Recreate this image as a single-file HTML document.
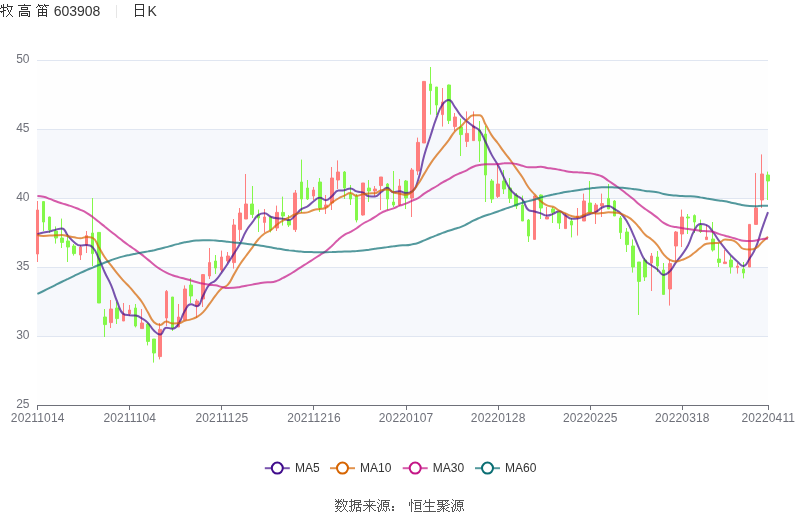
<!DOCTYPE html><html><head><meta charset="utf-8"><style>html,body{margin:0;padding:0;background:#fff;width:800px;height:517px;overflow:hidden}svg{display:block;will-change:transform;font-family:"Liberation Sans",sans-serif}</style></head><body><svg width="800" height="517" viewBox="0 0 800 517"><defs><clipPath id="cp"><rect x="36" y="55" width="734" height="351"/></clipPath></defs><rect x="37" y="60.5" width="731" height="69.0" fill="#fefefe"/><rect x="37" y="129.5" width="731" height="69.0" fill="#f6f8fc"/><rect x="37" y="198.5" width="731" height="69.0" fill="#fefefe"/><rect x="37" y="267.5" width="731" height="69.0" fill="#f6f8fc"/><rect x="37" y="336.5" width="731" height="69.0" fill="#fefefe"/><line x1="37" x2="768" y1="60.5" y2="60.5" stroke="#E0E6F1" stroke-width="1"/><line x1="37" x2="768" y1="129.5" y2="129.5" stroke="#E0E6F1" stroke-width="1"/><line x1="37" x2="768" y1="198.5" y2="198.5" stroke="#E0E6F1" stroke-width="1"/><line x1="37" x2="768" y1="267.5" y2="267.5" stroke="#E0E6F1" stroke-width="1"/><line x1="37" x2="768" y1="336.5" y2="336.5" stroke="#E0E6F1" stroke-width="1"/><text x="29.5" y="62.5" text-anchor="end" font-size="12" fill="#6E7079">50</text><text x="29.5" y="131.5" text-anchor="end" font-size="12" fill="#6E7079">45</text><text x="29.5" y="200.5" text-anchor="end" font-size="12" fill="#6E7079">40</text><text x="29.5" y="269.5" text-anchor="end" font-size="12" fill="#6E7079">35</text><text x="29.5" y="338.5" text-anchor="end" font-size="12" fill="#6E7079">30</text><text x="29.5" y="407.5" text-anchor="end" font-size="12" fill="#6E7079">25</text><line x1="37" x2="769" y1="405.5" y2="405.5" stroke="#6E7079" stroke-width="1"/><line x1="37.5" x2="37.5" y1="405.5" y2="410" stroke="#6E7079" stroke-width="1"/><text x="37.7" y="422" text-anchor="middle" font-size="12" letter-spacing="0.15" fill="#6E7079">20211014</text><line x1="129.5" x2="129.5" y1="405.5" y2="410" stroke="#6E7079" stroke-width="1"/><text x="129.79" y="422" text-anchor="middle" font-size="12" letter-spacing="0.15" fill="#6E7079">20211104</text><line x1="221.5" x2="221.5" y1="405.5" y2="410" stroke="#6E7079" stroke-width="1"/><text x="221.88" y="422" text-anchor="middle" font-size="12" letter-spacing="0.15" fill="#6E7079">20211125</text><line x1="313.5" x2="313.5" y1="405.5" y2="410" stroke="#6E7079" stroke-width="1"/><text x="313.98" y="422" text-anchor="middle" font-size="12" letter-spacing="0.15" fill="#6E7079">20211216</text><line x1="406.5" x2="406.5" y1="405.5" y2="410" stroke="#6E7079" stroke-width="1"/><text x="406.07" y="422" text-anchor="middle" font-size="12" letter-spacing="0.15" fill="#6E7079">20220107</text><line x1="498.5" x2="498.5" y1="405.5" y2="410" stroke="#6E7079" stroke-width="1"/><text x="498.16" y="422" text-anchor="middle" font-size="12" letter-spacing="0.15" fill="#6E7079">20220128</text><line x1="590.5" x2="590.5" y1="405.5" y2="410" stroke="#6E7079" stroke-width="1"/><text x="590.25" y="422" text-anchor="middle" font-size="12" letter-spacing="0.15" fill="#6E7079">20220225</text><line x1="682.5" x2="682.5" y1="405.5" y2="410" stroke="#6E7079" stroke-width="1"/><text x="682.35" y="422" text-anchor="middle" font-size="12" letter-spacing="0.15" fill="#6E7079">20220318</text><line x1="768.5" x2="768.5" y1="405.5" y2="410" stroke="#6E7079" stroke-width="1"/><text x="768.3" y="422" text-anchor="middle" font-size="12" letter-spacing="0.15" fill="#6E7079">20220411</text><g clip-path="url(#cp)"><path d="M37.5 201V210M37.5 254V262M36.5 210H38.5V254H36.5Z" fill="#FF7F7F" stroke="#FF7F7F" stroke-width="1"/><path d="M43.5 201V201.6M43.5 222V231M42.5 201.6H44.5V222H42.5Z" fill="#84F84A" stroke="#84F84A" stroke-width="1"/><path d="M49.5 216.6V217M49.5 230V233M48.5 217H50.5V230H48.5Z" fill="#84F84A" stroke="#84F84A" stroke-width="1"/><path d="M55.5 226.4V231M55.5 238V243.6M54.5 231H57.5V238H54.5Z" fill="#84F84A" stroke="#84F84A" stroke-width="1"/><path d="M61.5 218.6V238M61.5 242.4V248M60.5 238H63.5V242.4H60.5Z" fill="#84F84A" stroke="#84F84A" stroke-width="1"/><path d="M67.5 234V241M67.5 247V262M66.5 241H69.5V247H66.5Z" fill="#84F84A" stroke="#84F84A" stroke-width="1"/><path d="M73.5 244V246M73.5 253.6V255.6M72.5 246H75.5V253.6H72.5Z" fill="#84F84A" stroke="#84F84A" stroke-width="1"/><path d="M80.5 245V247M80.5 255V260M79.5 247H81.5V255H79.5Z" fill="#FF7F7F" stroke="#FF7F7F" stroke-width="1"/><path d="M86.5 231V235.6M86.5 245V253M85.5 235.6H87.5V245H85.5Z" fill="#FF7F7F" stroke="#FF7F7F" stroke-width="1"/><path d="M92.5 198V233M92.5 253.6V266M91.5 233H93.5V253.6H91.5Z" fill="#84F84A" stroke="#84F84A" stroke-width="1"/><path d="M98.5 232.4V232.4M98.5 303V303M97.5 232.4H100.5V303H97.5Z" fill="#84F84A" stroke="#84F84A" stroke-width="1"/><path d="M104.5 309V317M104.5 324.6V337M103.5 317H106.5V324.6H103.5Z" fill="#84F84A" stroke="#84F84A" stroke-width="1"/><path d="M110.5 300V309M110.5 322.6V328M109.5 309H112.5V322.6H109.5Z" fill="#FF7F7F" stroke="#FF7F7F" stroke-width="1"/><path d="M116.5 302V308M116.5 318.6V324M115.5 308H118.5V318.6H115.5Z" fill="#84F84A" stroke="#84F84A" stroke-width="1"/><path d="M123.5 303V314M123.5 321V321M122.5 314H124.5V321H122.5Z" fill="#FF7F7F" stroke="#FF7F7F" stroke-width="1"/><path d="M129.5 305V310M129.5 314V316M128.5 310H130.5V314H128.5Z" fill="#FF7F7F" stroke="#FF7F7F" stroke-width="1"/><path d="M135.5 304V308M135.5 326V327.4M134.5 308H136.5V326H134.5Z" fill="#84F84A" stroke="#84F84A" stroke-width="1"/><path d="M141.5 309V323M141.5 328.6V328.6M140.5 323H143.5V328.6H140.5Z" fill="#FF7F7F" stroke="#FF7F7F" stroke-width="1"/><path d="M147.5 323V324M147.5 341.4V345.4M146.5 324H149.5V341.4H146.5Z" fill="#84F84A" stroke="#84F84A" stroke-width="1"/><path d="M153.5 339V339M153.5 353V362.6M152.5 339H155.5V353H152.5Z" fill="#84F84A" stroke="#84F84A" stroke-width="1"/><path d="M159.5 323V329.4M159.5 356.6V359.4M158.5 329.4H161.5V356.6H158.5Z" fill="#FF7F7F" stroke="#FF7F7F" stroke-width="1"/><path d="M166.5 290V291.4M166.5 318V326M165.5 291.4H167.5V318H165.5Z" fill="#FF7F7F" stroke="#FF7F7F" stroke-width="1"/><path d="M172.5 297V297M172.5 328V331M171.5 297H173.5V328H171.5Z" fill="#84F84A" stroke="#84F84A" stroke-width="1"/><path d="M178.5 304V317M178.5 327V327M177.5 317H179.5V327H177.5Z" fill="#FF7F7F" stroke="#FF7F7F" stroke-width="1"/><path d="M184.5 285.4V289M184.5 320V320M183.5 289H186.5V320H183.5Z" fill="#FF7F7F" stroke="#FF7F7F" stroke-width="1"/><path d="M190.5 278V285M190.5 296V303M189.5 285H192.5V296H189.5Z" fill="#84F84A" stroke="#84F84A" stroke-width="1"/><path d="M196.5 299V301M196.5 306V318M195.5 301H198.5V306H195.5Z" fill="#FF7F7F" stroke="#FF7F7F" stroke-width="1"/><path d="M202.5 274V274.6M202.5 299V307M201.5 274.6H204.5V299H201.5Z" fill="#FF7F7F" stroke="#FF7F7F" stroke-width="1"/><path d="M209.5 248V262.6M209.5 276V279M208.5 262.6H210.5V276H208.5Z" fill="#FF7F7F" stroke="#FF7F7F" stroke-width="1"/><path d="M215.5 255V261M215.5 268V274M214.5 261H216.5V268H214.5Z" fill="#84F84A" stroke="#84F84A" stroke-width="1"/><path d="M221.5 250.6V257M221.5 270V272M220.5 257H222.5V270H220.5Z" fill="#FF7F7F" stroke="#FF7F7F" stroke-width="1"/><path d="M227.5 252V256M227.5 261V263M226.5 256H229.5V261H226.5Z" fill="#FF7F7F" stroke="#FF7F7F" stroke-width="1"/><path d="M233.5 219V225M233.5 262.6V268.6M232.5 225H235.5V262.6H232.5Z" fill="#FF7F7F" stroke="#FF7F7F" stroke-width="1"/><path d="M239.5 208V213M239.5 229.6V241M238.5 213H241.5V229.6H238.5Z" fill="#FF7F7F" stroke="#FF7F7F" stroke-width="1"/><path d="M245.5 174V204M245.5 219V219M244.5 204H247.5V219H244.5Z" fill="#FF7F7F" stroke="#FF7F7F" stroke-width="1"/><path d="M252.5 186V204M252.5 214.4V218M250.5 204H253.5V214.4H250.5Z" fill="#84F84A" stroke="#84F84A" stroke-width="1"/><path d="M258.5 209.6V215M258.5 218V232M257.5 215H259.5V218H257.5Z" fill="#84F84A" stroke="#84F84A" stroke-width="1"/><path d="M264.5 209V217M264.5 222.4V232.4M263.5 217H265.5V222.4H263.5Z" fill="#FF7F7F" stroke="#FF7F7F" stroke-width="1"/><path d="M270.5 216V217M270.5 230V232.4M269.5 217H271.5V230H269.5Z" fill="#84F84A" stroke="#84F84A" stroke-width="1"/><path d="M276.5 205.6V212.4M276.5 228V231M275.5 212.4H278.5V228H275.5Z" fill="#FF7F7F" stroke="#FF7F7F" stroke-width="1"/><path d="M282.5 196.6V212.4M282.5 216V225.6M281.5 212.4H284.5V216H281.5Z" fill="#84F84A" stroke="#84F84A" stroke-width="1"/><path d="M288.5 215V220M288.5 225V227M287.5 220H290.5V225H287.5Z" fill="#84F84A" stroke="#84F84A" stroke-width="1"/><path d="M295.5 190V193M295.5 229.6V232M293.5 193H296.5V229.6H293.5Z" fill="#FF7F7F" stroke="#FF7F7F" stroke-width="1"/><path d="M301.5 159.6V182M301.5 199V213M300.5 182H302.5V199H300.5Z" fill="#84F84A" stroke="#84F84A" stroke-width="1"/><path d="M307.5 180V188M307.5 199V200M306.5 188H308.5V199H306.5Z" fill="#84F84A" stroke="#84F84A" stroke-width="1"/><path d="M313.5 187V190M313.5 196V200M312.5 190H314.5V196H312.5Z" fill="#FF7F7F" stroke="#FF7F7F" stroke-width="1"/><path d="M319.5 178V182M319.5 208V212M318.5 182H321.5V208H318.5Z" fill="#84F84A" stroke="#84F84A" stroke-width="1"/><path d="M325.5 195V205M325.5 207V214M324.5 205H327.5V207H324.5Z" fill="#FF7F7F" stroke="#FF7F7F" stroke-width="1"/><path d="M331.5 167V178M331.5 203V210M330.5 178H333.5V203H330.5Z" fill="#FF7F7F" stroke="#FF7F7F" stroke-width="1"/><path d="M337.5 160.4V172M337.5 180V189M336.5 172H339.5V180H336.5Z" fill="#FF7F7F" stroke="#FF7F7F" stroke-width="1"/><path d="M344.5 171V172M344.5 188V199M343.5 172H345.5V188H343.5Z" fill="#84F84A" stroke="#84F84A" stroke-width="1"/><path d="M350.5 185V194M350.5 199V205M349.5 194H351.5V199H349.5Z" fill="#84F84A" stroke="#84F84A" stroke-width="1"/><path d="M356.5 194V196M356.5 220V222.4M355.5 196H357.5V220H355.5Z" fill="#84F84A" stroke="#84F84A" stroke-width="1"/><path d="M362.5 183V183M362.5 215V215.6M361.5 183H364.5V215H361.5Z" fill="#FF7F7F" stroke="#FF7F7F" stroke-width="1"/><path d="M368.5 180V188M368.5 191V202M367.5 188H370.5V191H367.5Z" fill="#84F84A" stroke="#84F84A" stroke-width="1"/><path d="M374.5 186V189M374.5 191V196M373.5 189H376.5V191H373.5Z" fill="#FF7F7F" stroke="#FF7F7F" stroke-width="1"/><path d="M380.5 177V177M380.5 185.6V210M379.5 177H382.5V185.6H379.5Z" fill="#FF7F7F" stroke="#FF7F7F" stroke-width="1"/><path d="M387.5 183V184M387.5 199V210M386.5 184H388.5V199H386.5Z" fill="#84F84A" stroke="#84F84A" stroke-width="1"/><path d="M393.5 171V202M393.5 205V207M392.5 202H394.5V205H392.5Z" fill="#84F84A" stroke="#84F84A" stroke-width="1"/><path d="M399.5 179V186M399.5 205V206M398.5 186H400.5V205H398.5Z" fill="#FF7F7F" stroke="#FF7F7F" stroke-width="1"/><path d="M405.5 180V181M405.5 198V209M404.5 181H407.5V198H404.5Z" fill="#84F84A" stroke="#84F84A" stroke-width="1"/><path d="M411.5 168V170M411.5 198V217M410.5 170H413.5V198H410.5Z" fill="#FF7F7F" stroke="#FF7F7F" stroke-width="1"/><path d="M417.5 137.6V142.4M417.5 171V175M416.5 142.4H419.5V171H416.5Z" fill="#FF7F7F" stroke="#FF7F7F" stroke-width="1"/><path d="M423.5 81V81.4M423.5 143V143M422.5 81.4H425.5V143H422.5Z" fill="#FF7F7F" stroke="#FF7F7F" stroke-width="1"/><path d="M430.5 67V84M430.5 90.6V114.6M429.5 84H431.5V90.6H429.5Z" fill="#84F84A" stroke="#84F84A" stroke-width="1"/><path d="M436.5 87V87M436.5 105V115M435.5 87H437.5V105H435.5Z" fill="#84F84A" stroke="#84F84A" stroke-width="1"/><path d="M442.5 88V102M442.5 114.6V126.6M441.5 102H443.5V114.6H441.5Z" fill="#FF7F7F" stroke="#FF7F7F" stroke-width="1"/><path d="M448.5 84.6V85M448.5 120.6V124M447.5 85H450.5V120.6H447.5Z" fill="#84F84A" stroke="#84F84A" stroke-width="1"/><path d="M454.5 113V117M454.5 126.6V131M453.5 117H456.5V126.6H453.5Z" fill="#FF7F7F" stroke="#FF7F7F" stroke-width="1"/><path d="M460.5 118.6V127M460.5 134.6V156M459.5 127H462.5V134.6H459.5Z" fill="#84F84A" stroke="#84F84A" stroke-width="1"/><path d="M466.5 111.4V133.4M466.5 141.4V147M465.5 133.4H468.5V141.4H465.5Z" fill="#FF7F7F" stroke="#FF7F7F" stroke-width="1"/><path d="M473.5 111.4V126M473.5 140.6V140.6M472.5 126H474.5V140.6H472.5Z" fill="#FF7F7F" stroke="#FF7F7F" stroke-width="1"/><path d="M479.5 121V130M479.5 141V162M478.5 130H480.5V141H478.5Z" fill="#84F84A" stroke="#84F84A" stroke-width="1"/><path d="M485.5 126V134M485.5 175V202M484.5 134H486.5V175H484.5Z" fill="#84F84A" stroke="#84F84A" stroke-width="1"/><path d="M491.5 179V181M491.5 199V203M490.5 181H493.5V199H490.5Z" fill="#84F84A" stroke="#84F84A" stroke-width="1"/><path d="M497.5 164V184M497.5 196.4V198M496.5 184H499.5V196.4H496.5Z" fill="#FF7F7F" stroke="#FF7F7F" stroke-width="1"/><path d="M503.5 170V181M503.5 189V194M502.5 181H505.5V189H502.5Z" fill="#84F84A" stroke="#84F84A" stroke-width="1"/><path d="M509.5 178V188M509.5 198.4V203M508.5 188H511.5V198.4H508.5Z" fill="#84F84A" stroke="#84F84A" stroke-width="1"/><path d="M516.5 193V195M516.5 206V209M514.5 195H517.5V206H514.5Z" fill="#84F84A" stroke="#84F84A" stroke-width="1"/><path d="M522.5 195.6V205M522.5 221V221M521.5 205H523.5V221H521.5Z" fill="#84F84A" stroke="#84F84A" stroke-width="1"/><path d="M528.5 219V220M528.5 236V242M527.5 220H529.5V236H527.5Z" fill="#84F84A" stroke="#84F84A" stroke-width="1"/><path d="M534.5 196V196M534.5 239.4V239.4M533.5 196H535.5V239.4H533.5Z" fill="#FF7F7F" stroke="#FF7F7F" stroke-width="1"/><path d="M540.5 194.4V195M540.5 208V219M539.5 195H542.5V208H539.5Z" fill="#84F84A" stroke="#84F84A" stroke-width="1"/><path d="M546.5 207V217M546.5 219V219M545.5 217H548.5V219H545.5Z" fill="#FF7F7F" stroke="#FF7F7F" stroke-width="1"/><path d="M552.5 207V209M552.5 212.4V223M551.5 209H554.5V212.4H551.5Z" fill="#84F84A" stroke="#84F84A" stroke-width="1"/><path d="M559.5 211V212.4M559.5 223V229M557.5 212.4H560.5V223H557.5Z" fill="#84F84A" stroke="#84F84A" stroke-width="1"/><path d="M565.5 213V216M565.5 228.6V228.6M564.5 216H566.5V228.6H564.5Z" fill="#FF7F7F" stroke="#FF7F7F" stroke-width="1"/><path d="M571.5 218V221M571.5 225V237.4M570.5 221H572.5V225H570.5Z" fill="#84F84A" stroke="#84F84A" stroke-width="1"/><path d="M577.5 208V216M577.5 218V235.6M576.5 216H578.5V218H576.5Z" fill="#FF7F7F" stroke="#FF7F7F" stroke-width="1"/><path d="M583.5 193.6V201M583.5 221V221M582.5 201H585.5V221H582.5Z" fill="#FF7F7F" stroke="#FF7F7F" stroke-width="1"/><path d="M589.5 181V203M589.5 212V212M588.5 203H591.5V212H588.5Z" fill="#84F84A" stroke="#84F84A" stroke-width="1"/><path d="M595.5 203V205M595.5 212V224M594.5 205H597.5V212H594.5Z" fill="#FF7F7F" stroke="#FF7F7F" stroke-width="1"/><path d="M601.5 193.6V203.6M601.5 206V217M600.5 203.6H603.5V206H600.5Z" fill="#FF7F7F" stroke="#FF7F7F" stroke-width="1"/><path d="M608.5 184V198.4M608.5 209V209M607.5 198.4H609.5V209H607.5Z" fill="#84F84A" stroke="#84F84A" stroke-width="1"/><path d="M614.5 200V201M614.5 216V216M613.5 201H615.5V216H613.5Z" fill="#84F84A" stroke="#84F84A" stroke-width="1"/><path d="M620.5 216V218M620.5 232.6V239M619.5 218H621.5V232.6H619.5Z" fill="#84F84A" stroke="#84F84A" stroke-width="1"/><path d="M626.5 228V232M626.5 244.6V252M625.5 232H628.5V244.6H625.5Z" fill="#84F84A" stroke="#84F84A" stroke-width="1"/><path d="M632.5 239.4V246M632.5 267V272.6M631.5 246H634.5V267H631.5Z" fill="#84F84A" stroke="#84F84A" stroke-width="1"/><path d="M638.5 262V262M638.5 281.4V315M637.5 262H640.5V281.4H637.5Z" fill="#84F84A" stroke="#84F84A" stroke-width="1"/><path d="M644.5 258V260M644.5 277V281M643.5 260H646.5V277H643.5Z" fill="#84F84A" stroke="#84F84A" stroke-width="1"/><path d="M651.5 253V256M651.5 263V291M650.5 256H652.5V263H650.5Z" fill="#FF7F7F" stroke="#FF7F7F" stroke-width="1"/><path d="M657.5 251V257M657.5 266V272M656.5 257H658.5V266H656.5Z" fill="#84F84A" stroke="#84F84A" stroke-width="1"/><path d="M663.5 263V270M663.5 294.4V294.4M662.5 270H664.5V294.4H662.5Z" fill="#84F84A" stroke="#84F84A" stroke-width="1"/><path d="M669.5 259.6V263.6M669.5 289V305.6M668.5 263.6H671.5V289H668.5Z" fill="#FF7F7F" stroke="#FF7F7F" stroke-width="1"/><path d="M675.5 231V232M675.5 246V261M674.5 232H677.5V246H674.5Z" fill="#FF7F7F" stroke="#FF7F7F" stroke-width="1"/><path d="M681.5 209.6V217M681.5 234V247M680.5 217H683.5V234H680.5Z" fill="#FF7F7F" stroke="#FF7F7F" stroke-width="1"/><path d="M687.5 214V217M687.5 218V234M686.5 217H689.5V218H686.5Z" fill="#84F84A" stroke="#84F84A" stroke-width="1"/><path d="M694.5 214.4V215.6M694.5 222V233M693.5 215.6H695.5V222H693.5Z" fill="#84F84A" stroke="#84F84A" stroke-width="1"/><path d="M700.5 219.6V225M700.5 231.6V233M699.5 225H701.5V231.6H699.5Z" fill="#84F84A" stroke="#84F84A" stroke-width="1"/><path d="M706.5 225V237M706.5 239.6V240M705.5 237H707.5V239.6H705.5Z" fill="#FF7F7F" stroke="#FF7F7F" stroke-width="1"/><path d="M712.5 222V239M712.5 250V251.6M711.5 239H714.5V250H711.5Z" fill="#84F84A" stroke="#84F84A" stroke-width="1"/><path d="M718.5 243V259M718.5 262.4V267M717.5 259H720.5V262.4H717.5Z" fill="#84F84A" stroke="#84F84A" stroke-width="1"/><path d="M724.5 250V262M724.5 263.6V263.6M723.5 262H726.5V263.6H723.5Z" fill="#FF7F7F" stroke="#FF7F7F" stroke-width="1"/><path d="M730.5 256V260M730.5 267V273.6M729.5 260H732.5V267H729.5Z" fill="#84F84A" stroke="#84F84A" stroke-width="1"/><path d="M737.5 263V266M737.5 267.6V273.6M736.5 266H738.5V267.6H736.5Z" fill="#FF7F7F" stroke="#FF7F7F" stroke-width="1"/><path d="M743.5 262V269M743.5 273V278.4M742.5 269H744.5V273H742.5Z" fill="#84F84A" stroke="#84F84A" stroke-width="1"/><path d="M749.5 224V224.4M749.5 267V267M748.5 224.4H750.5V267H748.5Z" fill="#FF7F7F" stroke="#FF7F7F" stroke-width="1"/><path d="M755.5 173V208M755.5 224.4V224.4M754.5 208H757.5V224.4H754.5Z" fill="#FF7F7F" stroke="#FF7F7F" stroke-width="1"/><path d="M761.5 154.4V174M761.5 200V208M760.5 174H763.5V200H760.5Z" fill="#FF7F7F" stroke="#FF7F7F" stroke-width="1"/><path d="M767.5 171.6V175M767.5 181V200M766.5 175H769.5V181H766.5Z" fill="#84F84A" stroke="#84F84A" stroke-width="1"/><path d="M37.4 234.28C37.4 234.28 40.43 233.23 43.54 232.51C46.57 231.82 46.65 232.16 49.68 231.46C52.79 230.73 52.71 230.41 55.82 229.65C58.85 228.92 59.54 228.48 61.96 228.48C65.68 228.48 64.89 232.3 68.1 235.88C71.03 239.16 70.82 239.49 74.24 242.2C76.96 244.35 77.11 245.6 80.38 245.6C83.25 245.6 83.54 245.12 86.52 245.12C89.68 245.12 90.58 245.12 92.66 247.36C96.72 251.74 96.02 252.82 98.79 258.56C102.16 265.52 101.69 265.74 104.93 272.76C107.83 279.04 108.38 278.8 111.07 285.16C114.52 293.3 113.74 293.64 117.21 301.76C119.88 307.98 119.16 310.83 123.35 313.84C125.3 315.24 126.39 314.95 129.49 315.24C132.52 315.52 132.71 315.24 135.63 315.52C138.84 315.83 138.89 316.6 141.77 318.32C145.03 320.28 145.24 320.19 147.91 322.88C151.38 326.37 150.5 327.31 154.05 330.68C156.64 333.15 157.49 334.56 160.19 334.56C163.63 334.56 162.66 327.64 166.33 327.64C168.8 327.64 169.75 328.64 172.47 328.64C175.89 328.64 176.42 326.91 178.61 323.76C182.56 318.07 181 316.9 184.75 310.96C187.14 307.16 187.29 304.28 190.89 304.28C193.43 304.28 194.92 306.2 197.03 306.2C201.06 306.2 200.12 300.87 203.17 295.52C206.26 290.09 205.46 289.37 209.31 284.64C211.6 281.83 212.82 283.01 215.45 280.44C218.95 277.01 218.66 276.64 221.58 272.64C224.8 268.24 224.76 268.21 227.72 263.64C230.9 258.75 230.79 258.68 233.86 253.72C236.93 248.76 237.23 248.92 240 243.8C243.37 237.56 242.61 237.13 246.14 231C248.75 226.47 249.1 226.66 252.28 222.48C255.24 218.6 254.7 217.34 258.42 214.88C260.84 213.28 261.65 213.28 264.56 213.28C267.79 213.28 267.48 215.35 270.7 216.68C273.62 217.89 273.72 218.03 276.84 218.36C279.86 218.68 279.95 218.36 282.98 218.68C286.09 219.01 286.38 220.08 289.12 220.08C292.52 220.08 292.36 217.87 295.26 215.28C298.5 212.37 297.93 211.59 301.4 209.08C304.06 207.15 304.75 208.19 307.54 206.4C310.89 204.25 310.4 203.5 313.68 201.2C316.54 199.2 316.65 197.8 319.82 197.8C322.79 197.8 323.07 200.2 325.96 200.2C329.21 200.2 329.17 198.29 332.1 196C335.31 193.49 334.73 191.13 338.24 190.6C340.87 190.2 341.37 190.6 344.37 190.2C347.5 189.78 347.55 188.4 350.51 188.4C353.69 188.4 353.44 190.35 356.65 191.4C359.58 192.35 359.95 191.4 362.79 192.4C366.09 193.56 365.62 195.96 368.93 196.2C371.75 196.4 372.32 196.4 375.07 196.4C378.46 196.4 378.12 194.17 381.21 192C384.26 189.87 384.31 187.8 387.35 187.8C390.44 187.8 390.12 192.2 393.49 192.2C396.26 192.2 396.6 191.2 399.63 191.2C402.74 191.2 402.68 193 405.77 193C408.82 193 409.89 193 411.91 191.6C416.03 188.74 415.99 186.33 418.05 180.28C422.13 168.31 420.75 167.82 424.19 155.56C426.89 145.92 427.22 146.01 430.33 136.48C433.36 127.17 432.98 127.02 436.47 117.88C439.12 110.92 438.53 110.25 442.61 104.28C444.67 101.27 446.02 99.92 448.75 99.92C452.16 99.92 452.02 103.32 454.89 107.04C458.16 111.28 457.58 111.77 461.03 115.84C463.71 119.01 463.99 118.81 467.16 121.52C470.13 124.05 470.15 124.04 473.3 126.32C476.29 128.48 477.24 127.58 479.44 130.4C483.38 135.42 482.64 136.14 485.58 142C488.78 148.38 488.37 148.59 491.72 154.88C494.51 160.09 495.05 159.8 497.86 165C501.19 171.16 500.82 171.36 504 177.6C506.96 183.4 506.47 183.79 510.14 189.08C512.6 192.63 512.99 192.44 516.28 195.28C519.13 197.74 520.06 196.83 522.42 199.68C526.2 204.23 524.52 207.39 528.56 210.08C530.66 211.48 531.66 210.66 534.7 211.48C537.8 212.32 537.79 212.38 540.84 213.4C543.93 214.44 543.87 215.6 546.98 215.6C550.01 215.6 550.12 214.94 553.12 213.88C556.26 212.78 556.33 211.28 559.26 211.28C562.47 211.28 562.26 213.39 565.4 215.28C568.4 217.09 568.26 218.68 571.54 218.68C574.4 218.68 574.7 218.68 577.68 218.48C580.84 218.27 580.74 217.32 583.82 216.2C586.88 215.08 586.88 215.1 589.95 214C593.02 212.9 593.24 213.31 596.09 211.8C599.37 210.07 598.9 209.06 602.23 207.52C605.04 206.22 605.43 206.12 608.37 206.12C611.57 206.12 611.56 207.41 614.51 209.12C617.7 210.97 618.05 210.68 620.65 213.24C624.18 216.7 624.24 216.88 626.79 221.16C630.38 227.18 630.03 227.42 632.93 233.84C636.17 241 635.78 241.18 639.07 248.32C641.92 254.52 641.29 255.13 645.21 260.52C647.43 263.57 648.23 262.93 651.35 265.2C654.37 267.41 654.56 267.16 657.49 269.48C660.7 272.04 660.33 274.96 663.63 274.96C666.47 274.96 667.35 273.88 669.77 271.4C673.49 267.6 672.7 266.8 675.91 262.4C678.83 258.4 679.19 258.65 682.05 254.6C685.33 249.95 685.61 250.06 688.19 245C691.75 238.02 690.4 237.2 694.33 230.52C696.54 226.76 696.86 224.12 700.47 224.12C703 224.12 704.1 224.12 706.61 225.12C710.24 226.57 709.95 228.2 712.74 231.72C716.09 235.94 715.71 236.24 718.88 240.6C721.85 244.68 721.84 244.69 725.02 248.6C727.98 252.23 727.93 252.29 731.16 255.68C734.07 258.73 734.09 258.76 737.3 261.48C740.22 263.96 740.74 266.08 743.44 266.08C746.88 266.08 746.88 262.53 749.58 258.48C753.02 253.33 753.34 253.39 755.72 247.68C759.48 238.69 758.67 238.34 761.86 229.08C764.81 220.54 768 212.08 768 212.08" fill="none" stroke="#400C8C" stroke-opacity="0.7" stroke-width="2" stroke-linejoin="bevel"/><path d="M37.4 235.07C37.4 235.07 40.46 235.97 43.54 235.97C46.6 235.97 46.61 235.78 49.68 235.62C52.75 235.45 52.75 235.46 55.82 235.31C58.89 235.16 58.92 235 61.96 235C65.06 235 65.02 235.63 68.1 236.22C71.16 236.81 71.16 236.84 74.24 237.36C77.3 237.88 77.32 238.31 80.38 238.31C83.46 238.31 83.43 237.07 86.52 237.07C89.57 237.07 90.46 237.07 92.66 237.92C96.6 239.44 95.83 242.5 98.79 247.22C101.97 252.28 101.59 252.54 104.93 257.48C107.73 261.62 108.02 261.42 111.07 265.38C114.16 269.4 114.03 269.5 117.21 273.44C120.17 277.11 120.18 277.12 123.35 280.6C126.32 283.85 126.54 283.64 129.49 286.9C132.68 290.41 132.61 290.48 135.63 294.14C138.75 297.9 139.05 297.7 141.77 301.74C145.18 306.79 144.77 307.07 147.91 312.32C150.91 317.33 150.14 318.26 154.05 322.26C156.28 324.55 157.19 324.9 160.19 324.9C163.33 324.9 163.13 321.58 166.33 321.58C169.27 321.58 169.33 323.48 172.47 323.48C175.47 323.48 175.66 323.48 178.61 323.32C181.8 323.15 181.6 321.82 184.75 320.82C187.74 319.87 187.9 320.37 190.89 319.42C194.04 318.42 194.21 318.6 197.03 316.92C200.35 314.93 200.47 314.87 203.17 312.08C206.61 308.51 206.31 308.2 209.31 304.2C212.45 300.01 212.22 299.83 215.45 295.7C218.36 291.96 218.07 291.55 221.58 288.46C224.21 286.16 225.44 287.49 227.72 284.92C231.58 280.57 230.81 279.78 233.86 274.62C236.94 269.43 236.72 269.28 240 264.22C242.86 259.83 243.03 259.94 246.14 255.72C249.17 251.61 249.23 251.65 252.28 247.56C255.37 243.42 255.04 243.13 258.42 239.26C261.18 236.1 261.2 235.97 264.56 233.5C267.34 231.46 267.9 232.25 270.7 230.24C274.04 227.84 273.59 227.23 276.84 224.68C279.73 222.4 279.8 222.44 282.98 220.58C285.94 218.84 286.06 219.05 289.12 217.48C292.2 215.9 292.04 215.48 295.26 214.28C298.18 213.18 298.29 213.36 301.4 212.88C304.43 212.41 304.58 212.88 307.54 212.38C310.71 211.84 310.52 210.83 313.68 209.94C316.65 209.11 316.76 209.49 319.82 208.94C322.9 208.39 323.27 208.94 325.96 207.74C329.41 206.2 328.89 204.95 332.1 202.54C335.03 200.33 335.03 200.28 338.24 198.5C341.17 196.86 341.29 197.06 344.37 195.7C347.43 194.36 347.45 193.1 350.51 193.1C353.59 193.1 353.5 195.8 356.65 195.8C359.64 195.8 359.69 194.81 362.79 194.2C365.83 193.61 365.85 193.5 368.93 193.4C371.99 193.3 372.18 193.4 375.07 193.3C378.32 193.19 377.98 190.87 381.21 190.2C384.11 189.6 384.41 189.6 387.35 189.6C390.55 189.6 390.32 191.24 393.49 192.3C396.46 193.29 396.54 193.1 399.63 193.7C402.68 194.3 402.83 194.7 405.77 194.7C408.97 194.7 409.41 193.97 411.91 191.8C415.55 188.64 415.26 188.11 418.05 184.04C421.4 179.15 421.11 178.95 424.19 173.88C427.24 168.85 427.07 168.73 430.33 163.84C433.21 159.51 433.29 159.56 436.47 155.44C439.43 151.61 439.58 151.72 442.61 147.94C445.72 144.05 445.79 144.1 448.75 140.1C451.93 135.78 451.37 135.29 454.89 131.3C457.51 128.32 458.12 128.9 461.03 126.16C464.26 123.1 463.84 122.64 467.16 119.7C469.98 117.21 469.92 115.47 473.3 115.3C476.06 115.16 477.27 115.16 479.44 115.16C483.41 115.16 482.68 119.74 485.58 124.52C488.82 129.84 488.32 130.16 491.72 135.36C494.46 139.53 494.89 139.24 497.86 143.26C501.03 147.54 500.82 147.69 504 151.96C506.96 155.93 507.2 155.75 510.14 159.74C513.34 164.09 513.18 164.21 516.28 168.64C519.32 172.98 519.54 172.84 522.42 177.28C525.67 182.29 525.11 182.69 528.56 187.54C531.25 191.32 531.59 191.07 534.7 194.54C537.73 197.92 537.46 198.24 540.84 201.24C543.6 203.69 543.65 203.94 546.98 205.44C549.79 206.71 550.27 205.57 553.12 206.78C556.41 208.19 556.06 208.96 559.26 210.68C562.2 212.26 562.32 212.04 565.4 213.38C568.46 214.72 568.35 215.09 571.54 216.04C574.49 216.92 574.66 217.04 577.68 217.04C580.8 217.04 580.78 216.13 583.82 215.04C586.92 213.93 586.79 212.64 589.95 212.64C592.93 212.64 593.01 213.54 596.09 213.54C599.15 213.54 599.17 213.41 602.23 213.1C605.31 212.79 605.29 212.3 608.37 212.3C611.43 212.3 611.46 212.33 614.51 212.66C617.6 212.99 617.71 212.71 620.65 213.62C623.85 214.62 623.87 214.8 626.79 216.48C630.01 218.33 630.15 218.25 632.93 220.68C636.29 223.62 636.13 223.84 639.07 227.22C642.27 230.91 641.75 231.44 645.21 234.82C647.89 237.44 648.49 236.77 651.35 239.22C654.63 242.02 654.78 241.97 657.49 245.32C660.92 249.56 660.12 250.24 663.63 254.4C666.26 257.51 666.3 257.87 669.77 259.86C672.44 261.4 672.84 261.46 675.91 261.46C678.97 261.46 679.06 260.93 682.05 259.9C685.2 258.82 685.31 258.91 688.19 257.24C691.45 255.33 691.31 255.07 694.33 252.74C697.45 250.33 697.28 250.09 700.47 247.76C703.42 245.6 703.27 244.47 706.61 243.76C709.41 243.16 709.67 243.4 712.74 243.16C715.81 242.92 716 243.16 718.88 242.8C722.14 242.39 721.77 239.56 725.02 239.56C727.91 239.56 728.3 239.56 731.16 239.9C734.44 240.29 734.49 241.24 737.3 243.3C740.63 245.74 739.92 248.04 743.44 248.9C746.06 249.54 746.54 249.54 749.58 249.54C752.68 249.54 753.09 249.54 755.72 248.14C759.23 246.27 758.77 245.24 761.86 242.38C764.91 239.56 768 236.78 768 236.78" fill="none" stroke="#D66400" stroke-opacity="0.7" stroke-width="2" stroke-linejoin="bevel"/><path d="M37.4 196C37.4 196 40.53 196.14 43.54 196.83C46.67 197.55 46.64 197.73 49.68 198.82C52.78 199.94 52.72 200.11 55.82 201.26C58.86 202.38 58.87 202.36 61.96 203.36C65.01 204.36 65.04 204.26 68.1 205.25C71.18 206.26 71.19 206.24 74.24 207.36C77.33 208.51 77.36 208.45 80.38 209.8C83.5 211.19 83.57 211.12 86.52 212.84C89.7 214.71 89.67 214.81 92.66 216.99C95.81 219.3 95.74 219.39 98.79 221.82C101.88 224.27 101.86 224.29 104.93 226.75C108 229.21 108 229.2 111.07 231.66C114.14 234.11 114.13 234.14 117.21 236.57C120.27 238.98 120.25 239 123.35 241.35C126.39 243.63 126.4 243.61 129.49 245.83C132.54 248.01 132.58 247.96 135.63 250.14C138.72 252.36 138.76 252.31 141.77 254.64C144.9 257.05 144.85 257.12 147.91 259.63C150.99 262.16 150.9 262.29 154.05 264.73C157.04 267.05 157.01 267.11 160.19 269.16C163.15 271.07 163.17 271.09 166.33 272.65C169.31 274.12 169.34 274.08 172.47 275.21C175.48 276.31 175.52 276.21 178.61 277.09C181.66 277.97 181.68 277.88 184.75 278.72C187.82 279.56 187.82 279.58 190.89 280.45C193.96 281.32 193.94 281.4 197.03 282.2C200.08 282.99 200.08 283.01 203.17 283.63C206.22 284.24 206.22 284.25 209.31 284.66C212.36 285.08 212.42 284.75 215.45 285.29C218.56 285.85 218.49 286.18 221.58 286.86C224.63 287.53 224.63 287.99 227.72 287.99C230.77 287.99 230.81 287.99 233.86 287.83C236.95 287.66 236.95 287.52 240 286.99C243.09 286.46 243.06 286.31 246.14 285.71C249.2 285.12 249.22 285.19 252.28 284.63C255.36 284.06 255.34 283.99 258.42 283.44C261.48 282.89 261.47 282.63 264.56 282.44C267.61 282.25 267.67 282.44 270.7 282.25C273.81 282.06 273.89 281.91 276.84 280.88C280.03 279.77 279.95 279.51 282.98 277.98C286.09 276.4 286.11 276.42 289.12 274.66C292.25 272.83 292.2 272.75 295.26 270.79C298.34 268.82 298.31 268.77 301.4 266.81C304.45 264.86 304.49 264.92 307.54 262.97C310.63 261 310.6 260.96 313.68 258.97C316.74 256.99 316.75 257.01 319.82 255.04C322.89 253.07 323.07 253.31 325.96 251.11C329.21 248.62 329.1 248.46 332.1 245.66C335.24 242.72 335 242.46 338.24 239.63C341.14 237.08 341.12 236.98 344.37 234.91C347.26 233.08 347.5 233.47 350.51 231.83C353.64 230.13 353.68 230.18 356.65 228.23C359.82 226.15 359.59 225.78 362.79 223.77C365.73 221.92 365.89 222.19 368.93 220.5C372.03 218.77 372.07 218.82 375.07 216.93C378.21 214.97 377.97 214.55 381.21 212.8C384.11 211.23 384.23 211.41 387.35 210.28C390.37 209.19 390.49 209.5 393.49 208.36C396.63 207.17 396.5 206.83 399.63 205.63C402.64 204.48 402.78 204.84 405.77 203.66C408.92 202.42 408.83 202.2 411.91 200.79C414.97 199.39 415.15 199.72 418.05 198.04C421.29 196.15 421.05 195.74 424.19 193.65C427.19 191.66 427.24 191.74 430.33 189.87C433.38 188.03 433.42 188.09 436.47 186.23C439.56 184.33 439.47 184.17 442.61 182.36C445.61 180.63 445.74 180.86 448.75 179.15C451.88 177.37 451.7 177.03 454.89 175.38C457.84 173.85 457.97 174.12 461.03 172.79C464.11 171.44 464.15 171.52 467.16 170.03C470.29 168.49 470.1 168.05 473.3 166.73C476.24 165.53 476.33 165.64 479.44 165C482.47 164.38 482.5 164.2 485.58 164.2C488.64 164.2 488.65 164.2 491.72 164.2C494.79 164.2 494.8 164.2 497.86 164C500.94 163.8 500.92 163.58 504 163.37C507.06 163.15 507.09 163.15 510.14 163.15C513.23 163.15 513.25 163.45 516.28 164.08C519.39 164.73 519.35 164.9 522.42 165.71C525.49 166.52 525.44 167.31 528.56 167.31C531.58 167.31 531.63 167.31 534.7 167.21C537.77 167.11 537.79 166.81 540.84 166.81C543.93 166.81 543.89 167.48 546.98 167.95C550.03 168.41 550.06 168.2 553.12 168.66C556.2 169.12 556.2 169.19 559.26 169.79C562.33 170.4 562.31 170.55 565.4 171.09C568.45 171.63 568.45 171.65 571.54 171.96C574.59 172.27 574.61 172.11 577.68 172.33C580.75 172.54 580.74 172.58 583.82 172.83C586.88 173.07 586.91 172.89 589.95 173.29C593.05 173.7 593.08 173.67 596.09 174.46C599.22 175.28 599.38 175.04 602.23 176.5C605.52 178.19 605.29 178.64 608.37 180.75C611.43 182.86 611.45 182.83 614.51 184.93C617.59 187.05 617.64 186.98 620.65 189.19C623.78 191.48 623.74 191.54 626.79 193.94C629.88 196.36 629.94 196.29 632.93 198.82C636.07 201.47 635.91 201.67 639.07 204.3C642.05 206.78 642.06 206.78 645.21 209.05C648.2 211.2 648.35 210.99 651.35 213.13C654.49 215.37 654.47 215.4 657.49 217.8C660.61 220.29 660.31 220.74 663.63 222.91C666.45 224.77 666.56 224.81 669.77 225.87C672.7 226.84 672.84 226.42 675.91 226.97C678.98 227.52 678.97 227.55 682.05 228.07C685.11 228.58 685.11 228.59 688.19 229.03C691.25 229.47 691.26 229.41 694.33 229.82C697.4 230.23 697.39 230.33 700.47 230.67C703.53 231.02 703.53 230.96 706.61 231.21C709.67 231.46 709.76 231.21 712.74 231.67C715.9 232.17 715.78 232.87 718.88 233.89C721.92 234.88 721.95 234.82 725.02 235.69C728.08 236.55 728.1 236.49 731.16 237.35C734.24 238.22 734.22 238.27 737.3 239.14C740.36 240 740.32 240.52 743.44 240.81C746.46 241.09 746.52 241.09 749.58 241.09C752.66 241.09 752.68 241.01 755.72 240.52C758.82 240.02 758.76 239.64 761.86 239.12C764.9 238.61 768 238.45 768 238.45" fill="none" stroke="#C41686" stroke-opacity="0.7" stroke-width="2" stroke-linejoin="bevel"/><path d="M37.4 293.82C37.4 293.82 40.49 292.44 43.54 290.99C46.63 289.52 46.63 289.52 49.68 287.98C52.77 286.43 52.74 286.37 55.82 284.8C58.88 283.24 58.87 283.23 61.96 281.73C65.01 280.24 65.03 280.28 68.1 278.82C71.17 277.35 71.17 277.34 74.24 275.86C77.31 274.38 77.29 274.34 80.38 272.91C83.43 271.49 83.43 271.5 86.52 270.15C89.57 268.82 89.58 268.85 92.66 267.56C95.72 266.27 95.72 266.27 98.79 265C101.86 263.74 101.85 263.72 104.93 262.52C107.99 261.33 107.99 261.31 111.07 260.2C114.13 259.11 114.12 259.08 117.21 258.11C120.26 257.17 120.26 257.17 123.35 256.38C126.4 255.6 126.41 255.64 129.49 254.98C132.55 254.31 132.56 254.33 135.63 253.72C138.7 253.12 138.7 253.13 141.77 252.54C144.84 251.96 144.84 251.97 147.91 251.38C150.98 250.79 150.99 250.82 154.05 250.18C157.13 249.53 157.14 249.55 160.19 248.79C163.28 248.03 163.26 247.97 166.33 247.13C169.4 246.29 169.39 246.25 172.47 245.43C175.53 244.61 175.53 244.62 178.61 243.85C181.67 243.08 181.66 243.03 184.75 242.35C187.8 241.68 187.8 241.61 190.89 241.14C193.94 240.68 193.95 240.71 197.03 240.48C200.09 240.25 200.1 240.21 203.17 240.2C206.23 240.2 206.24 240.2 209.31 240.2C212.38 240.2 212.38 240.31 215.45 240.54C218.52 240.77 218.52 240.81 221.58 241.11C224.66 241.42 224.66 241.44 227.72 241.78C230.79 242.12 230.79 242.13 233.86 242.46C236.93 242.8 236.93 242.78 240 243.11C243.07 243.43 243.07 243.41 246.14 243.75C249.21 244.09 249.22 244.08 252.28 244.47C255.36 244.85 255.36 244.85 258.42 245.3C261.5 245.75 261.5 245.76 264.56 246.27C267.64 246.78 267.63 246.79 270.7 247.34C273.77 247.89 273.77 247.92 276.84 248.47C279.91 249.02 279.9 249.06 282.98 249.53C286.04 250 286.04 249.99 289.12 250.37C292.18 250.74 292.19 250.72 295.26 251.03C298.33 251.33 298.33 251.35 301.4 251.59C304.46 251.82 304.47 251.83 307.54 251.96C310.61 252.1 310.61 252.07 313.68 252.13C316.75 252.19 316.75 252.21 319.82 252.21C322.89 252.21 322.89 252.21 325.96 252.2C329.03 252.19 329.03 252.14 332.1 252.05C335.17 251.96 335.17 251.95 338.24 251.84C341.31 251.73 341.31 251.73 344.37 251.61C347.44 251.5 347.45 251.52 350.51 251.38C353.59 251.24 353.59 251.28 356.65 251.06C359.73 250.83 359.73 250.84 362.79 250.49C365.87 250.14 365.87 250.09 368.93 249.66C372.01 249.22 372 249.19 375.07 248.75C378.14 248.31 378.14 248.3 381.21 247.89C384.28 247.48 384.28 247.51 387.35 247.12C390.42 246.73 390.42 246.75 393.49 246.34C396.56 245.92 396.55 245.66 399.63 245.46C402.69 245.26 402.71 245.46 405.77 245.26C408.85 245.06 408.87 244.97 411.91 244.39C415.01 243.81 415.06 243.92 418.05 242.93C421.2 241.89 421.11 241.61 424.19 240.32C427.25 239.04 427.24 239.02 430.33 237.79C433.38 236.57 433.41 236.64 436.47 235.43C439.55 234.2 439.5 234.07 442.61 232.9C445.64 231.75 445.67 231.82 448.75 230.79C451.81 229.78 451.82 229.81 454.89 228.82C457.96 227.83 458.03 228.01 461.03 226.83C464.17 225.6 464.14 225.52 467.16 224.01C470.28 222.45 470.18 222.25 473.3 220.7C476.32 219.19 476.34 219.21 479.44 217.9C482.48 216.61 482.48 216.59 485.58 215.5C488.62 214.44 488.67 214.59 491.72 213.59C494.81 212.58 494.81 212.58 497.86 211.49C500.95 210.39 500.92 210.3 504 209.2C507.06 208.12 507.09 208.21 510.14 207.13C513.23 206.04 513.21 205.99 516.28 204.87C519.35 203.76 519.31 203.62 522.42 202.67C525.45 201.74 525.49 201.9 528.56 201.11C531.63 200.33 531.66 200.41 534.7 199.52C537.8 198.62 537.75 198.45 540.84 197.52C543.89 196.61 543.89 196.6 546.98 195.86C550.03 195.13 550.04 195.2 553.12 194.58C556.18 193.96 556.2 194.02 559.26 193.36C562.34 192.7 562.3 192.51 565.4 191.95C568.44 191.39 568.46 191.52 571.54 191.12C574.6 190.72 574.62 190.81 577.68 190.34C580.76 189.87 580.73 189.7 583.82 189.23C586.87 188.76 586.89 188.88 589.95 188.48C593.03 188.08 593.01 187.93 596.09 187.63C599.15 187.33 599.16 187.34 602.23 187.27C605.3 187.2 605.3 187.2 608.37 187.2C611.44 187.2 611.44 187.28 614.51 187.4C617.58 187.53 617.58 187.52 620.65 187.71C623.72 187.89 623.73 187.83 626.79 188.15C629.87 188.47 629.86 188.56 632.93 188.98C636 189.41 636.01 189.36 639.07 189.84C642.15 190.32 642.13 190.48 645.21 190.92C648.27 191.35 648.28 191.25 651.35 191.58C654.42 191.92 654.47 191.68 657.49 192.27C660.61 192.87 660.53 193.26 663.63 193.96C666.67 194.64 666.68 194.62 669.77 195.03C672.82 195.44 672.84 195.33 675.91 195.58C678.98 195.83 678.97 195.88 682.05 196.03C685.11 196.19 685.12 196.09 688.19 196.2C691.26 196.31 691.27 196.2 694.33 196.48C697.41 196.77 697.4 196.88 700.47 197.38C703.54 197.87 703.53 197.93 706.61 198.46C709.67 198.99 709.68 198.97 712.74 199.49C715.82 200.02 715.8 200.11 718.88 200.55C721.94 200.99 721.98 200.73 725.02 201.25C728.12 201.78 728.09 201.99 731.16 202.65C734.23 203.31 734.24 203.24 737.3 203.9C740.38 204.56 740.35 204.75 743.44 205.3C746.49 205.84 746.5 205.94 749.58 206.09C752.64 206.24 752.66 206.24 755.72 206.24C758.8 206.24 758.79 205.81 761.86 205.72C764.92 205.64 768 205.64 768 205.64" fill="none" stroke="#0A6E73" stroke-opacity="0.7" stroke-width="2" stroke-linejoin="bevel"/></g><path d="M3 4h1v1h-1zM7 4h1v1h-1zM1 5h1v1h-1zM3 5h1v1h-1zM7 5h1v1h-1zM1 6h1v1h-1zM3 6h1v1h-1zM7 6h6v1h-6zM1 7h6v1h-6zM11 7h1v1h-1zM0 8h1v1h-1zM3 8h1v1h-1zM7 8h1v1h-1zM11 8h1v1h-1zM3 9h1v1h-1zM7 9h1v1h-1zM11 9h1v1h-1zM3 10h3v1h-3zM8 10h1v1h-1zM10 10h1v1h-1zM0 11h4v1h-4zM8 11h1v1h-1zM10 11h1v1h-1zM1 12h1v1h-1zM3 12h1v1h-1zM9 12h1v1h-1zM3 13h1v1h-1zM9 13h1v1h-1zM3 14h1v1h-1zM8 14h1v1h-1zM10 14h1v1h-1zM3 15h1v1h-1zM7 15h1v1h-1zM11 15h1v1h-1zM3 16h1v1h-1zM6 16h1v1h-1zM12 16h1v1h-1zM24 4h1v1h-1zM18 5h13v1h-13zM21 7h7v1h-7zM21 8h1v1h-1zM27 8h1v1h-1zM21 9h7v1h-7zM19 11h11v1h-11zM19 12h1v1h-1zM29 12h1v1h-1zM19 13h1v1h-1zM21 13h7v1h-7zM29 13h1v1h-1zM19 14h1v1h-1zM21 14h1v1h-1zM27 14h1v1h-1zM29 14h1v1h-1zM19 15h1v1h-1zM21 15h7v1h-7zM29 15h1v1h-1zM19 16h1v1h-1zM28 16h2v1h-2zM38 4h1v1h-1zM44 4h1v1h-1zM38 5h5v1h-5zM44 5h5v1h-5zM37 6h1v1h-1zM39 6h1v1h-1zM43 6h1v1h-1zM45 6h1v1h-1zM36 7h1v1h-1zM40 7h1v1h-1zM42 7h1v1h-1zM46 7h1v1h-1zM42 8h1v1h-1zM38 9h9v1h-9zM38 10h1v1h-1zM42 10h1v1h-1zM46 10h1v1h-1zM38 11h1v1h-1zM42 11h1v1h-1zM46 11h1v1h-1zM38 12h9v1h-9zM38 13h1v1h-1zM42 13h1v1h-1zM46 13h1v1h-1zM38 14h1v1h-1zM42 14h1v1h-1zM46 14h1v1h-1zM38 15h9v1h-9zM38 16h1v1h-1zM46 16h1v1h-1zM135 4h9v1h-9zM135 5h1v1h-1zM143 5h1v1h-1zM135 6h1v1h-1zM143 6h1v1h-1zM135 7h1v1h-1zM143 7h1v1h-1zM135 8h1v1h-1zM143 8h1v1h-1zM135 9h9v1h-9zM135 10h1v1h-1zM143 10h1v1h-1zM135 11h1v1h-1zM143 11h1v1h-1zM135 12h1v1h-1zM143 12h1v1h-1zM135 13h1v1h-1zM143 13h1v1h-1zM135 14h1v1h-1zM143 14h1v1h-1zM135 15h9v1h-9zM135 16h1v1h-1zM143 16h1v1h-1z" fill="#333" shape-rendering="crispEdges"/><text x="53.67" y="16" font-size="14" fill="#333">603908</text><line x1="116.5" x2="116.5" y1="5" y2="18" stroke="#e6e6e6"/><text x="147.6" y="16" font-size="14" fill="#333">K</text><line x1="264.8" x2="289.8" y1="468.2" y2="468.2" stroke="#400C8C" stroke-opacity="0.7" stroke-width="2"/><circle cx="277.3" cy="468.1" r="5.5" fill="#fff" stroke="#400C8C" stroke-width="2"/><text x="294.9" y="472" font-size="12" fill="#333">MA5</text><line x1="330" x2="355" y1="468.2" y2="468.2" stroke="#D66400" stroke-opacity="0.7" stroke-width="2"/><circle cx="342.5" cy="468.1" r="5.5" fill="#fff" stroke="#D66400" stroke-width="2"/><text x="360.1" y="472" font-size="12" fill="#333">MA10</text><line x1="402.7" x2="427.7" y1="468.2" y2="468.2" stroke="#C41686" stroke-opacity="0.7" stroke-width="2"/><circle cx="415.2" cy="468.1" r="5.5" fill="#fff" stroke="#C41686" stroke-width="2"/><text x="432.8" y="472" font-size="12" fill="#333">MA30</text><line x1="475" x2="500" y1="468.2" y2="468.2" stroke="#0A6E73" stroke-opacity="0.7" stroke-width="2"/><circle cx="487.5" cy="468.1" r="5.5" fill="#fff" stroke="#0A6E73" stroke-width="2"/><text x="505.1" y="472" font-size="12" fill="#333">MA60</text><path d="M335 499h1v1h-1zM338 499h1v1h-1zM341 499h1v1h-1zM343 499h1v1h-1zM336 500h1v1h-1zM338 500h1v1h-1zM340 500h1v1h-1zM343 500h1v1h-1zM335 501h7v1h-7zM343 501h5v1h-5zM337 502h3v1h-3zM342 502h1v1h-1zM346 502h1v1h-1zM336 503h1v1h-1zM338 503h1v1h-1zM340 503h1v1h-1zM342 503h1v1h-1zM346 503h1v1h-1zM335 504h1v1h-1zM338 504h1v1h-1zM341 504h1v1h-1zM343 504h1v1h-1zM346 504h1v1h-1zM337 505h1v1h-1zM343 505h1v1h-1zM345 505h1v1h-1zM335 506h7v1h-7zM343 506h1v1h-1zM345 506h1v1h-1zM337 507h1v1h-1zM340 507h1v1h-1zM344 507h1v1h-1zM336 508h2v1h-2zM339 508h1v1h-1zM344 508h1v1h-1zM338 509h1v1h-1zM343 509h1v1h-1zM345 509h1v1h-1zM337 510h1v1h-1zM339 510h1v1h-1zM342 510h1v1h-1zM346 510h1v1h-1zM335 511h2v1h-2zM340 511h2v1h-2zM347 511h1v1h-1zM351 499h1v1h-1zM351 500h1v1h-1zM354 500h7v1h-7zM349 501h6v1h-6zM360 501h1v1h-1zM351 502h1v1h-1zM354 502h7v1h-7zM351 503h1v1h-1zM354 503h1v1h-1zM358 503h1v1h-1zM351 504h1v1h-1zM353 504h9v1h-9zM351 505h2v1h-2zM354 505h1v1h-1zM358 505h1v1h-1zM349 506h3v1h-3zM354 506h1v1h-1zM358 506h1v1h-1zM351 507h1v1h-1zM354 507h1v1h-1zM356 507h5v1h-5zM351 508h1v1h-1zM354 508h1v1h-1zM356 508h1v1h-1zM360 508h1v1h-1zM351 509h1v1h-1zM353 509h1v1h-1zM356 509h1v1h-1zM360 509h1v1h-1zM349 510h1v1h-1zM351 510h1v1h-1zM353 510h1v1h-1zM356 510h5v1h-5zM350 511h1v1h-1zM352 511h1v1h-1zM356 511h1v1h-1zM360 511h1v1h-1zM369 499h1v1h-1zM369 500h1v1h-1zM364 501h11v1h-11zM369 502h1v1h-1zM366 503h1v1h-1zM369 503h1v1h-1zM372 503h1v1h-1zM367 504h1v1h-1zM369 504h1v1h-1zM371 504h1v1h-1zM363 505h13v1h-13zM368 506h3v1h-3zM367 507h1v1h-1zM369 507h1v1h-1zM371 507h1v1h-1zM366 508h1v1h-1zM369 508h1v1h-1zM372 508h1v1h-1zM365 509h1v1h-1zM369 509h1v1h-1zM373 509h1v1h-1zM363 510h2v1h-2zM369 510h1v1h-1zM374 510h2v1h-2zM369 511h1v1h-1zM378 499h1v1h-1zM379 500h1v1h-1zM381 500h9v1h-9zM381 501h1v1h-1zM385 501h1v1h-1zM377 502h1v1h-1zM381 502h1v1h-1zM383 502h6v1h-6zM378 503h1v1h-1zM381 503h1v1h-1zM383 503h1v1h-1zM388 503h1v1h-1zM380 504h2v1h-2zM383 504h6v1h-6zM379 505h1v1h-1zM381 505h1v1h-1zM383 505h1v1h-1zM388 505h1v1h-1zM379 506h1v1h-1zM381 506h1v1h-1zM383 506h6v1h-6zM377 507h2v1h-2zM381 507h1v1h-1zM386 507h1v1h-1zM378 508h1v1h-1zM381 508h1v1h-1zM383 508h1v1h-1zM386 508h1v1h-1zM388 508h1v1h-1zM378 509h1v1h-1zM380 509h1v1h-1zM383 509h1v1h-1zM386 509h1v1h-1zM389 509h1v1h-1zM378 510h1v1h-1zM380 510h1v1h-1zM382 510h1v1h-1zM384 510h1v1h-1zM386 510h1v1h-1zM389 510h1v1h-1zM378 511h2v1h-2zM385 511h1v1h-1zM392 506h2v2h-2zM392 509h2v2h-2zM411 499h1v1h-1zM411 500h1v1h-1zM414 500h8v1h-8zM411 501h1v1h-1zM409 502h1v1h-1zM411 502h2v1h-2zM415 502h6v1h-6zM409 503h1v1h-1zM411 503h1v1h-1zM413 503h1v1h-1zM415 503h1v1h-1zM420 503h1v1h-1zM409 504h1v1h-1zM411 504h1v1h-1zM415 504h1v1h-1zM420 504h1v1h-1zM409 505h1v1h-1zM411 505h1v1h-1zM415 505h6v1h-6zM411 506h1v1h-1zM415 506h1v1h-1zM420 506h1v1h-1zM411 507h1v1h-1zM415 507h1v1h-1zM420 507h1v1h-1zM411 508h1v1h-1zM415 508h6v1h-6zM411 509h1v1h-1zM415 509h1v1h-1zM420 509h1v1h-1zM411 510h1v1h-1zM411 511h1v1h-1zM414 511h8v1h-8zM429 499h1v1h-1zM425 500h1v1h-1zM429 500h1v1h-1zM425 501h1v1h-1zM429 501h1v1h-1zM425 502h10v1h-10zM424 503h1v1h-1zM429 503h1v1h-1zM423 504h1v1h-1zM429 504h1v1h-1zM429 505h1v1h-1zM425 506h9v1h-9zM429 507h1v1h-1zM429 508h1v1h-1zM429 509h1v1h-1zM429 510h1v1h-1zM423 511h13v1h-13zM437 500h12v1h-12zM438 501h1v1h-1zM442 501h1v1h-1zM445 501h1v1h-1zM447 501h1v1h-1zM438 502h5v1h-5zM446 502h1v1h-1zM438 503h1v1h-1zM442 503h1v1h-1zM445 503h1v1h-1zM447 503h1v1h-1zM437 504h8v1h-8zM448 504h2v1h-2zM442 505h1v1h-1zM445 505h3v1h-3zM438 506h7v1h-7zM441 507h1v1h-1zM443 507h1v1h-1zM447 507h2v1h-2zM440 508h1v1h-1zM442 508h3v1h-3zM446 508h1v1h-1zM437 509h3v1h-3zM441 509h1v1h-1zM443 509h1v1h-1zM445 509h1v1h-1zM440 510h1v1h-1zM443 510h1v1h-1zM446 510h2v1h-2zM437 511h3v1h-3zM443 511h1v1h-1zM448 511h2v1h-2zM452 499h1v1h-1zM453 500h1v1h-1zM455 500h9v1h-9zM455 501h1v1h-1zM459 501h1v1h-1zM451 502h1v1h-1zM455 502h1v1h-1zM457 502h6v1h-6zM452 503h1v1h-1zM455 503h1v1h-1zM457 503h1v1h-1zM462 503h1v1h-1zM454 504h2v1h-2zM457 504h6v1h-6zM453 505h1v1h-1zM455 505h1v1h-1zM457 505h1v1h-1zM462 505h1v1h-1zM453 506h1v1h-1zM455 506h1v1h-1zM457 506h6v1h-6zM451 507h2v1h-2zM455 507h1v1h-1zM460 507h1v1h-1zM452 508h1v1h-1zM455 508h1v1h-1zM457 508h1v1h-1zM460 508h1v1h-1zM462 508h1v1h-1zM452 509h1v1h-1zM454 509h1v1h-1zM457 509h1v1h-1zM460 509h1v1h-1zM463 509h1v1h-1zM452 510h1v1h-1zM454 510h1v1h-1zM456 510h1v1h-1zM458 510h1v1h-1zM460 510h1v1h-1zM463 510h1v1h-1zM452 511h2v1h-2zM459 511h1v1h-1z" fill="#555" shape-rendering="crispEdges"/></svg></body></html>
